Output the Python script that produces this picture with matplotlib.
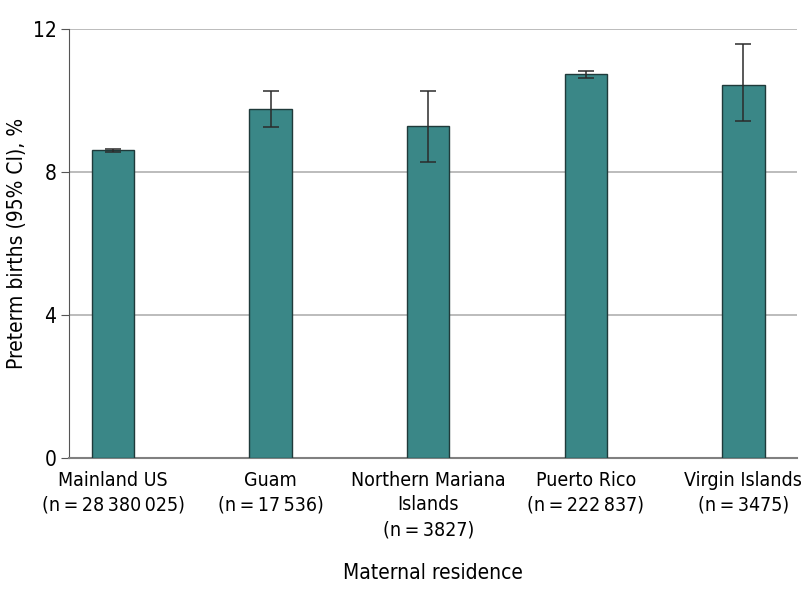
import matplotlib.pyplot as plt
import numpy as np

plt.rcParams['font.family'] = ['DejaVu Sans']
plt.rcParams['font.stretch'] = 'condensed'

regions = ["Mainland US\n(n\u2009=\u200928\u2009380\u2009025)", "Guam\n(n\u2009=\u200917\u2009536)",
           "Northern Mariana\nIslands\n(n\u2009=\u20093827)", "Puerto Rico\n(n\u2009=\u2009222\u2009837)",
           "Virgin Islands\n(n\u2009=\u20093475)"]
preterm = [8.60, 9.75, 9.27, 10.73, 10.43]
ci_low = [8.56, 9.26, 8.29, 10.62, 9.43]
ci_high = [8.64, 10.25, 10.25, 10.83, 11.56]

x = np.arange(len(regions))
err = [np.array(preterm) - np.array(ci_low), np.array(ci_high) - np.array(preterm)]

fig = plt.figure(figsize=(8.01, 5.99), dpi=100)
ax = fig.add_axes([0.086, 0.235, 0.909, 0.717])

ax.bar(x, preterm, width=0.27, color="#3a8787", edgecolor="#1f3a3a", linewidth=1, zorder=3)
ax.errorbar(x, preterm, yerr=err, fmt="none", ecolor="#2b2b2b", elinewidth=1.1,
            capsize=6, capthick=1.1, zorder=4)

ax.set_ylim(0, 12)
ax.set_xlim(-0.28, 4.34)
ax.set_yticks([0, 4, 8, 12])
ax.yaxis.grid(True, color="#b0b0b0", linewidth=1.2, zorder=0)
ax.set_axisbelow(True)
for s in ["top", "right"]:
    ax.spines[s].set_visible(False)
ax.spines["left"].set_color("#555555")
ax.spines["bottom"].set_color("#808080")
ax.spines["bottom"].set_linewidth(1.5)
ax.tick_params(axis="y", labelsize=15, length=6, color="#555555", pad=3)
ax.tick_params(axis="x", length=0, labelsize=14, pad=9)
ax.set_xticks(x)
ax.set_xticklabels(regions, linespacing=1.38)
ax.set_ylabel("Preterm births (95% CI), %", fontsize=15, labelpad=4)
ax.set_xlabel("Maternal residence", fontsize=15, labelpad=17)

plt.savefig("out.png", dpi=100)
